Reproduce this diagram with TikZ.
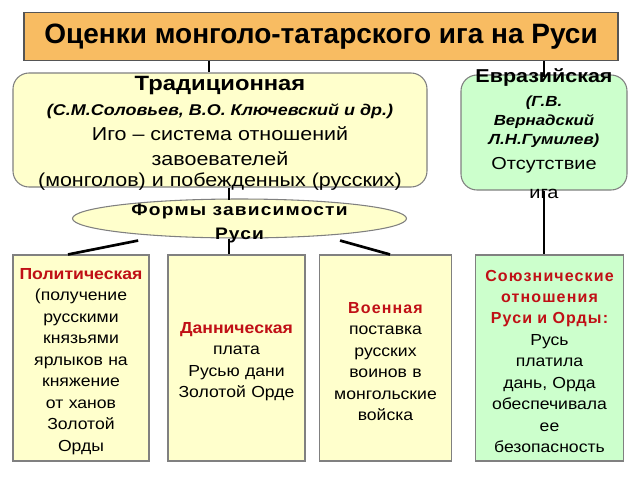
\documentclass[tikz,border=0pt]{standalone}
\usepackage{fontspec}
\setmainfont{Liberation Sans}
\newfontfamily\widesans[FakeStretch=1.1]{Liberation Sans}
\newfontfamily\broadsans[FakeStretch=1.15]{Liberation Sans}
\newfontfamily\spacedsans[LetterSpace=7]{Liberation Sans}
\newfontfamily\broadspaced[FakeStretch=1.15,LetterSpace=7]{Liberation Sans}
\usetikzlibrary{shapes.geometric}

\definecolor{titleorange}{RGB}{248,188,98}
\definecolor{paleyellow}{RGB}{255,255,204}
\definecolor{palegreen}{RGB}{204,255,204}
\definecolor{edgegray}{RGB}{128,128,128}
\definecolor{darkedge}{RGB}{85,85,85}
\definecolor{formred}{RGB}{192,16,22}

\newcommand{\formstrut}{\rule{0pt}{13.5pt}}
\tikzset{
  titlebox/.style={draw=darkedge, line width=0.8pt, fill=titleorange, font=\fontsize{21}{24}\selectfont\bfseries},
  viewbox/.style={draw=edgegray, line width=0.8pt, rounded corners=12pt},
  formbox/.style={draw=edgegray, line width=0.8pt, fill=paleyellow, minimum height=154.5pt, align=center, font=\widesans\fontsize{12}{16.1}\selectfont, execute at begin node=\formstrut},
  link/.style={line width=2pt, black},
}
\newcommand{\formname}[1]{{\color{formred}\bfseries #1}}
\newcommand{\spacedname}[1]{{\color{formred}\spacedsans\bfseries #1}}

\begin{document}
\begin{tikzpicture}[x=0.75pt,y=0.75pt,yscale=-1,xscale=1]
\useasboundingbox (0,0) rectangle (640,480);

%Title
\node[titlebox, minimum width=445.5pt, minimum height=36pt] (title) at (321,36.7) {Оценки монголо-татарского ига на Руси};

%Shape: traditional view
\node[viewbox, fill=paleyellow, minimum width=310.5pt, minimum height=85.5pt] (trad) at (220,130) {};
%Shape: eurasian view
\node[viewbox, fill=palegreen, minimum width=124.5pt, minimum height=86.25pt] (euras) at (544,132.5) {};
%Shape: forms ellipse
\node[ellipse, draw=edgegray, line width=0.8pt, fill=paleyellow, minimum width=250.5pt, minimum height=29.25pt, inner sep=0pt] (forms) at (239.5,218.5) {};

%Bottom boxes
\node[formbox, minimum width=102pt, text width=95pt] (polit) at (81,358) {\formname{Политическая}\\(получение\\русскими\\князьями\\ярлыков на\\княжение\\от ханов\\Золотой\\Орды};
\node[formbox, minimum width=102.75pt, text width=96pt] (tribute) at (236.5,358) {\formname{Данническая}\\плата\\Русью дани\\Золотой Орде};
\node[formbox, minimum width=98.25pt, text width=92pt] (military) at (385.5,358) {\spacedname{Военная}\\поставка\\русских\\воинов в\\монгольские\\войска};
\node[formbox, fill=palegreen, minimum width=110.25pt, text width=104pt] (alliance) at (549.5,358) {\spacedname{Союзнические}\\\spacedname{отношения}\\\spacedname{Руси и Орды:}\\Русь\\платила\\дань, Орда\\обеспечивала\\ее\\безопасность};

%Straight Lines
\draw[link] ([xshift=-8.25pt]trad.north |- title.south) -- ([xshift=-8.25pt]trad.north);
\draw[link] (euras.north |- title.south) -- ([yshift=2pt]euras.north);
\draw[link] ([xshift=-5.6pt]tribute.north |- trad.south) -- ([xshift=-5.6pt,yshift=1.5pt]tribute.north |- forms.north);
\draw[link] ([xshift=-5.6pt]tribute.north |- forms.south) -- ([xshift=-5.6pt]tribute.north);
\draw[link] ([xshift=-9.75pt]polit.north) -- ([xshift=-76pt,yshift=1.5pt]forms.south);
\draw[link] ([xshift=3.4pt]military.north) -- ([xshift=75.4pt,yshift=1.5pt]forms.south);
\draw[link] (euras.south) -- (euras.south |- alliance.north);

% Text Node
\node[align=center, inner sep=0pt, font=\broadsans\fontsize{14}{18.75}\selectfont] (tradtext) at ([yshift=2.5pt]trad.center) {{\fontsize{15.5}{18.75}\selectfont\bfseries Традиционная}\\{\fontsize{11.7}{18.75}\selectfont\bfseries\itshape (С.М.Соловьев, В.О. Ключевский и др.)}\\Иго – система отношений\\завоевателей\\[-3pt](монголов) и побежденных (русских)};
% Text Node
\node[align=center, inner sep=0pt, font=\broadsans\fontsize{13}{14.25}\selectfont] (eurastext) at ([yshift=0.75pt]euras.center) {{\fontsize{14}{14.25}\selectfont\bfseries Евразийская}\\[3.5pt]{\fontsize{11}{14.25}\selectfont\bfseries\itshape (Г.В.}\\{\fontsize{11}{14.25}\selectfont\bfseries\itshape Вернадский}\\{\fontsize{11}{14.25}\selectfont\bfseries\itshape Л.Н.Гумилев)}\\[5pt]Отсутствие\\[7pt]ига};
% Text Node
\node[align=center, inner sep=0pt, font=\broadspaced\fontsize{12.5}{18}\selectfont\bfseries] (formstext) at ([yshift=3.4pt]forms.center) {Формы зависимости\\Руси};

\end{tikzpicture}
\end{document}
